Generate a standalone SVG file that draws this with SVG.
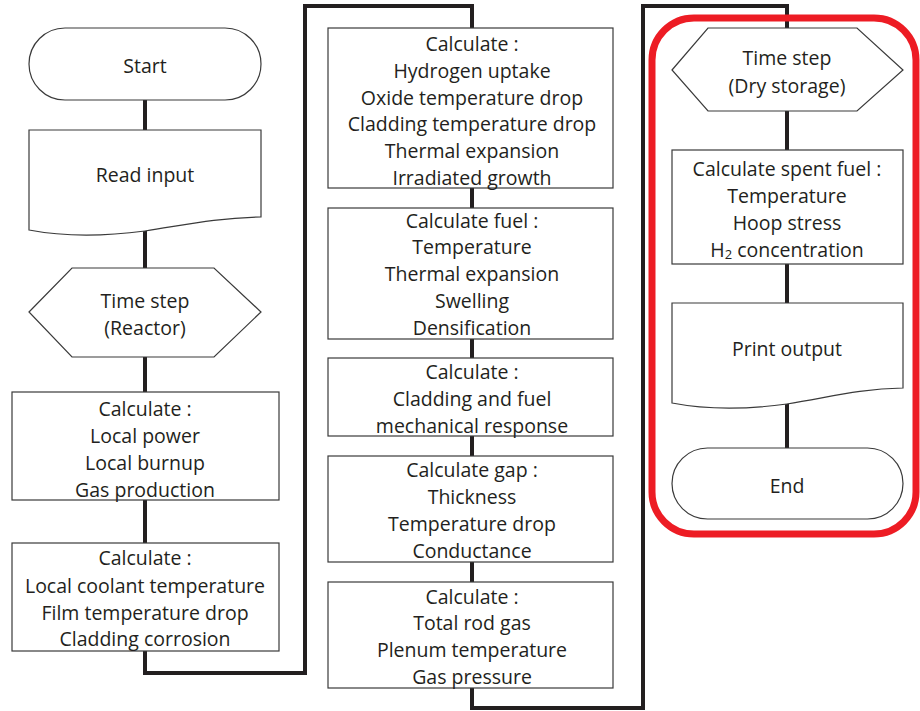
<svg xmlns="http://www.w3.org/2000/svg" width="920" height="711" viewBox="0 0 920 711">
<style>
.n{fill:#fff;stroke:#3a3a3a;stroke-width:1.2}
.c{fill:none;stroke:#231f20;stroke-width:4;stroke-linejoin:miter}
text{font-family:"Open Sans","Noto Sans",sans-serif;font-size:19.5px;fill:#231f20;text-anchor:middle;dominant-baseline:central}
</style>
<rect width="920" height="711" fill="#fff"/>
<g id="connectors">
<path class="c" d="M145,100V130M145,228V268M145,357V392M145,500V543M145,651V673H305V6H472V28"/>
<path class="c" d="M472,188V208M472,339V358M472,436V456M472,562V582M472,688V708H643V6H787V28"/>
<path class="c" d="M787,111V150M787,264V303M787,400V448"/>
</g>
<g id="start"><rect class="n" x="29" y="28" width="232" height="72" rx="36"/><text x="145" y="65">Start</text></g>
<g id="read-input"><path class="n" d="M29,130H261V217C215,218 185,225 145,231C100,237 60,236 29,230Z"/><text x="145" y="174">Read input</text></g>
<g id="time-step-reactor"><path class="n" d="M29,312L72,268H214L261,312L214,357H72Z"/><text x="145" y="300">Time step</text><text x="145" y="327">(Reactor)</text></g>
<g id="calc-local"><rect class="n" x="12" y="392" width="267" height="108"/><text x="145" y="408">Calculate :</text><text x="145" y="435">Local power</text><text x="145" y="462">Local burnup</text><text x="145" y="489">Gas production</text></g>
<g id="calc-coolant"><rect class="n" x="12" y="543" width="267" height="108"/><text x="145" y="557">Calculate :</text><text x="145" y="585">Local coolant temperature</text><text x="145" y="612">Film temperature drop</text><text x="145" y="638">Cladding corrosion</text></g>
<g id="calc-hydrogen"><rect class="n" x="328" y="28" width="285" height="160"/><text x="472" y="43">Calculate :</text><text x="472" y="70">Hydrogen uptake</text><text x="472" y="97">Oxide temperature drop</text><text x="472" y="123">Cladding temperature drop</text><text x="472" y="150">Thermal expansion</text><text x="472" y="177">Irradiated growth</text></g>
<g id="calc-fuel"><rect class="n" x="328" y="208" width="285" height="131"/><text x="472" y="220">Calculate fuel :</text><text x="472" y="246">Temperature</text><text x="472" y="273">Thermal expansion</text><text x="472" y="300">Swelling</text><text x="472" y="327">Densification</text></g>
<g id="calc-mechanical"><rect class="n" x="328" y="358" width="285" height="78"/><text x="472" y="371">Calculate :</text><text x="472" y="398">Cladding and fuel</text><text x="472" y="425">mechanical response</text></g>
<g id="calc-gap"><rect class="n" x="328" y="456" width="285" height="106"/><text x="472" y="469">Calculate gap :</text><text x="472" y="496">Thickness</text><text x="472" y="523">Temperature drop</text><text x="472" y="550">Conductance</text></g>
<g id="calc-gas"><rect class="n" x="328" y="582" width="285" height="106"/><text x="472" y="596">Calculate :</text><text x="472" y="622">Total rod gas</text><text x="472" y="649">Plenum temperature</text><text x="472" y="676">Gas pressure</text></g>
<g id="time-step-dry"><path class="n" d="M672,70L708,28H857L903,70L857,111H708Z"/><text x="787" y="57">Time step</text><text x="787" y="85">(Dry storage)</text></g>
<g id="calc-spent"><rect class="n" x="672" y="150" width="231" height="114"/><text x="787" y="168">Calculate spent fuel :</text><text x="787" y="195">Temperature</text><text x="787" y="222">Hoop stress</text><text x="787" y="249">H<tspan font-size="13" dy="5">2</tspan><tspan dy="-5"> concentration</tspan></text></g>
<g id="print-output"><path class="n" d="M672,303H903V388C857,389 827,398 787,404C743,410 703,409 672,403Z"/><text x="787" y="348">Print output</text></g>
<g id="end"><rect class="n" x="672" y="448" width="231" height="71" rx="35.5"/><text x="787" y="485">End</text></g>
<g id="highlight"><rect x="652" y="18" width="264" height="516" rx="42" fill="none" stroke="#ed1c24" stroke-width="7"/></g>
</svg>
